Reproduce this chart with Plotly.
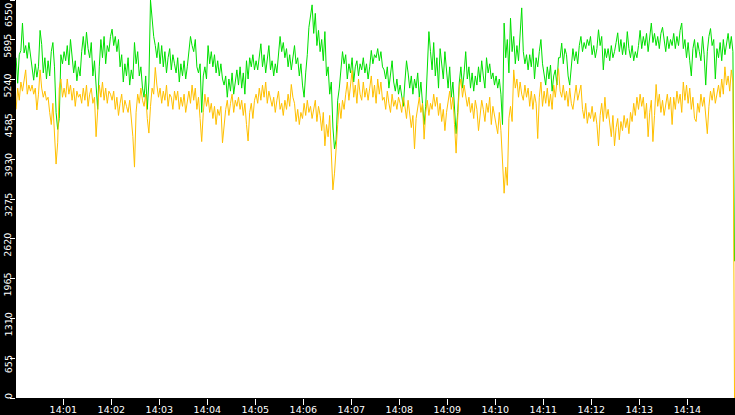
import pandas as pd
import plotly.graph_objects as go

# ---- data (one sample every 2 s from 14:00:01) ----
start_time = "2024-01-01 14:00:01"
sample_step = "2s"

green_values = [
    5600, 5180, 5650, 5720, 6170, 5680, 5800, 5590, 5850, 5660,
    5420, 5230, 5500, 5280, 5450, 6050, 5820, 5350, 5600, 5250,
    5550, 5300, 5700, 5850, 5450, 4700, 4420, 4600, 5650, 5500,
    5700, 5550, 5800, 5480, 5900, 5600, 5350, 5550, 5220, 5450,
    5300, 5700, 5950, 5650, 6020, 5750, 5600, 5850, 5300, 5550,
    5150, 4750, 5450, 5900, 5600, 5950, 5500, 5800, 5700, 5950,
    6070, 5800, 5950, 5700, 5900, 5450, 5650, 5200, 5500, 5300,
    5600, 5150, 5400, 5250, 5850, 5500, 5700, 5300, 5450, 5100,
    4950, 5300, 4750, 5200, 6550, 6200, 5950, 5800, 5600, 5850,
    5500, 5800, 5450, 5700, 5350, 5600, 5750, 5400, 5650, 5500,
    5350, 5600, 5200, 5500, 5300, 5550, 5250, 5450, 5700, 5950,
    5800, 5700, 5900, 5450, 5350, 5500, 4700, 5300, 5450, 5250,
    5800, 5500, 5700, 5450, 5650, 5350, 5550, 5300, 5500, 5250,
    5150, 5300, 4950, 5250, 5050, 5350, 5000, 5250, 5400, 5150,
    5450, 5100, 5350, 5000, 5550, 5250, 5600, 5450, 5650, 5400,
    5550, 5400, 5650, 5830, 5450, 5650, 5350, 5550, 5800, 5400,
    5550, 5300, 5500, 5350, 5600, 5950, 5700, 5850, 5600, 5750,
    5450, 5650, 5400, 5600, 5800, 5500, 5600, 5300, 5500, 5150,
    4950, 5350, 5650, 6100, 6250, 6470, 6000, 6330, 5800, 6050,
    5700, 5900, 5550, 6030, 5300, 5450, 5000, 5200, 4460, 4100,
    4250, 4900, 5100, 5400, 5700, 5500, 5650, 5250, 5500, 5350,
    5600, 5200, 5450, 5550, 5300, 5500, 5400, 5600, 5350, 5500,
    5250, 5450, 5720, 5500, 5650, 5600, 5750, 5550, 5700, 5450,
    5400, 5250, 5450, 5100, 5300, 5550, 5200, 5050, 5250, 5000,
    5150, 5000, 4800, 5200, 5550, 5350, 5100, 5300, 5000, 5250,
    5100, 5350, 4950, 5200, 4900, 4500, 4800, 5300, 6030, 5700,
    5400, 5850, 5300, 5600, 5100, 5750, 5450, 5250, 5700, 5400,
    5100, 5450, 4950, 5200, 4800, 4350, 4700, 5200, 5450, 5100,
    5350, 5700, 5250, 5450, 5100, 5350, 5050, 5300, 5150, 5450,
    5200, 5550, 5300, 5100, 5600, 5350, 5500, 5250, 5350, 5150,
    5300, 5100, 5250, 5000, 4500, 6170, 5600, 5900, 5350, 6250,
    5700, 5950, 5500, 5800, 5550, 6000, 6420, 5700, 5500, 5650,
    5400, 5650, 5450, 5750, 5250, 5600, 5450, 5700, 5900, 5500,
    5350, 5150, 5450, 5250, 5480, 5050, 5300, 5400, 5150, 5600,
    5600, 5840, 5500, 5750, 5650, 5300, 5150, 5400, 5750, 5550,
    5700, 5500, 5800, 5950, 5700, 5850, 5750, 5900, 5800, 5950,
    5650, 5800, 5600, 5750, 6060, 5800, 5950, 5400, 5750, 5600,
    5750, 5550, 5800, 5600, 5700, 5850, 6010, 5700, 5900, 5650,
    5850, 5650, 6030, 5750, 5600, 5800, 5550, 5700, 5600, 5800,
    6050, 5750, 5950, 5800, 6000, 5700, 5900, 6170, 5850, 6000,
    5800, 5950, 5750, 6000, 6100, 5850, 5700, 5950, 5750, 5900,
    5800, 6000, 5750, 5950, 5800, 6050, 6170, 5750, 5900, 5600,
    5850, 5550, 5300, 5750, 5900, 5600, 5850, 5700, 5550, 5950,
    5650, 5150, 5700, 5950, 6080, 5800, 5900, 5250, 5750, 5600,
    5850, 5550, 5900, 5650, 5800, 6000, 5750, 5950, 5700, 2250,
]

orange_values = [
    4750, 5100, 4900, 5200, 5050, 5250, 5400, 5000, 5150, 5050,
    5150, 5000, 5100, 4740, 5000, 5400, 5100, 4950, 5050, 4900,
    4950, 4700, 4500, 4850, 4300, 3850, 4200, 5100, 5250, 4950,
    5100, 4950, 5250, 5000, 5150, 4900, 5100, 4800, 5050, 4950,
    5000, 4850, 5100, 4900, 5150, 4800, 5000, 5100, 4850, 4950,
    4300, 4800, 5150, 4950, 5200, 4900, 5100, 4850, 5050, 5000,
    4900, 5050, 4750, 4950, 4650, 4850, 5000, 4700, 4900, 4800,
    4700, 4900, 4600, 4300, 3800, 4700, 5000, 4850, 5100, 4900,
    4800, 5000, 4600, 4360, 4800, 5100, 5000, 5440, 5150, 4950,
    5100, 4850, 5050, 4900, 5150, 4800, 5000, 4950, 4750, 5050,
    4900, 5050, 4750, 4950, 4800, 5000, 4700, 4900, 5050, 4850,
    5150, 4900, 5100, 4750, 4950, 4600, 4220, 4700, 5000, 4800,
    4950, 4700, 4850, 4600, 4800, 4500, 4750, 4650, 4800, 4200,
    4550, 4750, 4900, 4650, 4850, 5000, 4700, 4900, 4800, 4950,
    4750, 4900, 4650, 4850, 4500, 4230, 4700, 4850, 4600, 4900,
    5000, 4850, 5100, 4900, 5150, 4950, 5200, 4850, 5050, 4900,
    4800, 4950, 4700, 4900, 5050, 4750, 4850, 4650, 4900, 4750,
    5000, 4800, 5160, 4950, 4850, 4550, 4750, 4500, 4700, 4600,
    4850, 4650, 4900, 4700, 4800, 4600, 4750, 4900, 4550, 4800,
    4650, 4400, 4700, 4150, 4500, 4300, 4650, 3900, 3425, 3700,
    4200, 4500, 4850, 4600, 4900, 4750, 5000, 5200, 4900, 5100,
    5390, 4950, 5150, 4850, 5250, 5000, 4900, 5200, 4950, 5100,
    4900, 5100, 5300, 4950, 5150, 4850, 5250, 5000, 5200, 4900,
    4950, 4750, 5050, 4850, 4700, 5000, 4800, 4900, 4750, 4950,
    4850, 4700, 4950, 4800, 4600, 4900, 4650, 4450, 4650, 4100,
    4600, 4800, 4950, 4700, 4850, 4260, 4700, 4900, 4650, 4850,
    4750, 5000, 4800, 4950, 4650, 4850, 4550, 4750, 4400, 4700,
    4850, 5050, 4750, 4950, 4500, 4030, 4600, 5100, 5250, 4950,
    5150, 5000, 4800, 4950, 4700, 4850, 4600, 4900, 4750, 4400,
    4650, 4900, 4750, 4550, 4850, 4700, 4950, 4500, 4800, 4650,
    4550, 4350, 4700, 4400, 3900, 3370, 3800, 3500, 4600, 4800,
    4550, 5400, 5100, 5250, 4950, 5200, 5000, 4900, 5150, 4950,
    5100, 4800, 5050, 4750, 5000, 4850, 4270, 4950, 5200, 4800,
    5050, 4850, 5100, 4800, 5000, 4750, 5150, 4950, 5200, 5420,
    5050, 4950, 5150, 4900, 5050, 4800, 5100, 4850, 4750, 5000,
    5150, 4900, 5050, 5150, 4750, 4600, 4850, 4520, 4700, 4600,
    4800, 4550, 4700, 4500, 4150, 4650, 4850, 4550, 4950, 4600,
    4750, 4500, 4300, 4650, 4150, 4450, 4600, 4250, 4550, 4400,
    4650, 4450, 4600, 4350, 4700, 4550, 4850, 4650, 4950, 4750,
    5000, 4800, 4950, 4600, 4850, 4300, 4700, 4900, 4220, 4650,
    5160, 4800, 5000, 4700, 4900, 4650, 4850, 5000, 4750, 4950,
    4500, 4950, 4750, 5050, 4850, 5000, 4700, 5200, 4900, 5150,
    4850, 5100, 4750, 4950, 4600, 4550, 4850, 4700, 5000, 4800,
    4950, 4700, 4350, 4800, 5050, 4900, 5100, 4850, 5000, 5150,
    4950, 5250, 5000, 5450, 5150, 5300, 5050, 5400, 5200, 0,
]

y_tick_values = [0, 655, 1310, 1965, 2620, 3275, 3930, 4585, 5240, 5895, 6550]
y_tick_labels = ["0", "655", "1310", "1965", "2620", "3275", "3930", "4585", "5240", "5895", "6550"]
x_range = ["2024-01-01 14:00:00.9", "2024-01-01 14:14:59.6"]

times = pd.date_range(start=start_time, periods=len(green_values), freq=sample_step)

fig = go.Figure()
fig.add_trace(go.Scatter(x=times, y=green_values, mode="lines",
                         line=dict(color="#00E000", width=1), hoverinfo="skip"))
fig.add_trace(go.Scatter(x=times, y=orange_values, mode="lines",
                         line=dict(color="#FFC000", width=1), hoverinfo="skip"))

tick_font = dict(family="DejaVu Sans", size=9.5, color="white")

# y tick labels: rotated, sitting just below each tick, kept inside the plot height
y_max = y_tick_values[-1]
for val, lab in zip(y_tick_values, y_tick_labels):
    if val == 0:
        anchor, shift = "bottom", -2
    elif val == y_max:
        anchor, shift = "top", -2
    else:
        anchor, shift = "middle", -6
    fig.add_annotation(
        x=0, xref="paper", xshift=-8, xanchor="center",
        y=val, yref="y", yanchor=anchor, yshift=shift,
        text=lab, textangle=-90, showarrow=False,
        font=tick_font, borderpad=0,
    )

fig.update_layout(
    width=735, height=415,
    margin=dict(l=16, r=0, t=0, b=17, pad=0),
    paper_bgcolor="black", plot_bgcolor="white",
    showlegend=False,
    xaxis=dict(
        type="date", range=x_range,
        tick0="2024-01-01 14:00:00", dtick=60000, tickformat="%H:%M",
        ticks="outside", ticklen=6, tickcolor="white", tickwidth=1,
        tickfont=tick_font, showgrid=False, zeroline=False, showline=False,
        automargin=False, ticklabelstandoff=-3,
    ),
    yaxis=dict(
        range=[0, 6550], tickmode="array",
        tickvals=y_tick_values, showticklabels=False,
        ticks="outside", ticklen=5, tickcolor="white", tickwidth=1,
        showgrid=False, zeroline=False, showline=False, automargin=False,
    ),
)

fig.write_html("out.html", config={"displayModeBar": False},
               post_script="document.body.style.margin='0';document.body.style.overflow='hidden';")
